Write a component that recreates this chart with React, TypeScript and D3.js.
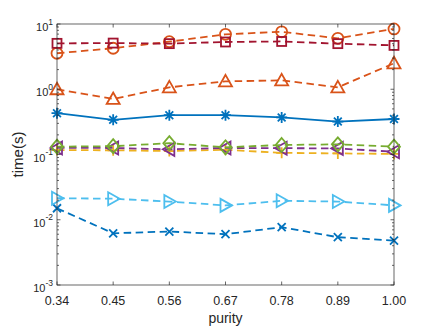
import React from "react";
import * as d3 from "d3";

const purity = [0.34, 0.45, 0.56, 0.67, 0.78, 0.89, 1.0];
const xTickLabels = ["0.34", "0.45", "0.56", "0.67", "0.78", "0.89", "1.00"];
const yTickExponents = [-3, -2, -1, 0, 1];

const squareSeries = [5.05, 5.1, 5.0, 5.3, 5.4, 5.0, 4.7];
const circleSeries = [3.56, 4.25, 5.36, 6.95, 7.6, 6.04, 8.4];
const triUpSeries = [1.0, 0.71, 1.07, 1.32, 1.37, 1.07, 2.5];
const starSeries = [0.43, 0.34, 0.4, 0.4, 0.37, 0.32, 0.35];
const plusSeries = [0.117, 0.116, 0.113, 0.118, 0.106, 0.104, 0.102];
const triLeftSeries = [0.126, 0.126, 0.12, 0.126, 0.125, 0.124, 0.11];
const diamondSeries = [0.132, 0.134, 0.149, 0.129, 0.14, 0.143, 0.132];
const triRightSeries = [0.0214, 0.021, 0.019, 0.0166, 0.0195, 0.019, 0.0166];
const xSeries = [0.015, 0.0062, 0.0066, 0.006, 0.0077, 0.0054, 0.0048];

type Series = { values: number[]; color: string; marker: string; dashed: boolean };

const series: Series[] = [
  { values: xSeries, color: "#0072BD", marker: "x", dashed: true },
  { values: triRightSeries, color: "#4DBEEE", marker: "triRight", dashed: true },
  { values: plusSeries, color: "#EDB120", marker: "plus", dashed: true },
  { values: triLeftSeries, color: "#7E2F8E", marker: "triLeft", dashed: true },
  { values: diamondSeries, color: "#77AC30", marker: "diamond", dashed: true },
  { values: starSeries, color: "#0072BD", marker: "star", dashed: false },
  { values: triUpSeries, color: "#D95319", marker: "triUp", dashed: true },
  { values: circleSeries, color: "#D95319", marker: "circle", dashed: true },
  { values: squareSeries, color: "#A2142F", marker: "square", dashed: true },
];

const W = 436, H = 327;
const M = { left: 57, right: 394, top: 24, bottom: 285 };
const LW = 1.8;

function Marker({ type, x, y, color }: { type: string; x: number; y: number; color: string }) {
  const s = 5.5;
  const common = { fill: "none", stroke: color, strokeWidth: LW };
  switch (type) {
    case "square":
      return <rect x={x - 4.5} y={y - 4.5} width={9} height={9} {...common} />;
    case "circle":
      return <circle cx={x} cy={y} r={5.5} {...common} />;
    case "triUp":
      return <path d={`M${x},${y - 6.5}L${x + 6.5},${y + 5}L${x - 6.5},${y + 5}Z`} {...common} />;
    case "triLeft":
      return <path d={`M${x - 6.5},${y}L${x + 5},${y - 6.5}L${x + 5},${y + 6.5}Z`} {...common} />;
    case "triRight":
      return <path d={`M${x + 6.5},${y}L${x - 5},${y - 6.5}L${x - 5},${y + 6.5}Z`} {...common} />;
    case "diamond":
      return <path d={`M${x},${y - 7}L${x + 6},${y}L${x},${y + 7}L${x - 6},${y}Z`} {...common} />;
    case "plus":
      return <path d={`M${x - s},${y}L${x + s},${y}M${x},${y - s}L${x},${y + s}`} {...common} />;
    case "x":
      return <path d={`M${x - 4},${y - 4}L${x + 4},${y + 4}M${x - 4},${y + 4}L${x + 4},${y - 4}`} {...common} />;
    case "star":
      return (
        <path
          d={`M${x - s},${y}L${x + s},${y}M${x},${y - s}L${x},${y + s}M${x - 3.9},${y - 3.9}L${x + 3.9},${y + 3.9}M${x - 3.9},${y + 3.9}L${x + 3.9},${y - 3.9}`}
          {...common}
        />
      );
    default:
      return null;
  }
}

export default function App() {
  const x = d3.scaleLinear().domain([0.34, 1.0]).range([M.left, M.right]);
  const y = d3.scaleLog().domain([1e-3, 1e1]).range([M.bottom, M.top]);
  const line = d3
    .line<number>()
    .x((_, i) => x(purity[i]))
    .y((d) => y(d));

  const minorTicks: number[] = [];
  for (let e = -3; e < 1; e++) {
    for (let k = 2; k <= 9; k++) minorTicks.push(k * Math.pow(10, e));
  }
  const axisColor = "#262626";
  const font = "Helvetica, Arial, 'Liberation Sans', sans-serif";

  return (
    <svg width={W} height={H} style={{ position: "absolute", left: 0, top: 0, background: "#fff" }}>
      <rect x={0} y={0} width={W} height={H} fill="#fff" />
      {series.map((s, si) => (
        <g key={si}>
          <path
            d={line(s.values) || ""}
            fill="none"
            stroke={s.color}
            strokeWidth={LW}
            strokeDasharray={s.dashed ? "7.5,4.5" : undefined}
          />
          {s.values.map((v, i) => (
            <Marker key={i} type={s.marker} x={x(purity[i])} y={y(v)} color={s.color} />
          ))}
        </g>
      ))}
      <rect
        x={M.left}
        y={M.top}
        width={M.right - M.left}
        height={M.bottom - M.top}
        fill="none"
        stroke={axisColor}
        strokeWidth={0.7}
      />
      {purity.map((p, i) => (
        <g key={i}>
          <line x1={x(p)} x2={x(p)} y1={M.bottom} y2={M.bottom - 3.5} stroke={axisColor} strokeWidth={0.7} />
          <line x1={x(p)} x2={x(p)} y1={M.top} y2={M.top + 3.5} stroke={axisColor} strokeWidth={0.7} />
          <text x={x(p)} y={M.bottom + 20} textAnchor="middle" fontSize={12.5} fill={axisColor} fontFamily={font}>
            {xTickLabels[i]}
          </text>
        </g>
      ))}
      {yTickExponents.map((e) => {
        const yy = y(Math.pow(10, e));
        return (
          <g key={e}>
            <line x1={M.left} x2={M.left + 3.5} y1={yy} y2={yy} stroke={axisColor} strokeWidth={0.7} />
            <line x1={M.right} x2={M.right - 3.5} y1={yy} y2={yy} stroke={axisColor} strokeWidth={0.7} />
            <text x={M.left - 4} y={yy + 7} textAnchor="end" fontSize={11} fill={axisColor} fontFamily={font}>
              10
              <tspan dy={-6.5} fontSize={8.5}>
                {String(e)}
              </tspan>
            </text>
          </g>
        );
      })}
      {minorTicks.map((t, i) => (
        <g key={i}>
          <line x1={M.left} x2={M.left + 2} y1={y(t)} y2={y(t)} stroke={axisColor} strokeWidth={0.7} />
          <line x1={M.right} x2={M.right - 2} y1={y(t)} y2={y(t)} stroke={axisColor} strokeWidth={0.7} />
        </g>
      ))}
      <text x={(M.left + M.right) / 2} y={323} textAnchor="middle" fontSize={14} fill={axisColor} fontFamily={font}>
        purity
      </text>
      <text
        transform={`translate(23,${(M.top + M.bottom) / 2}) rotate(-90)`}
        textAnchor="middle"
        fontSize={15}
        fill={axisColor}
        fontFamily={font}
      >
        time(s)
      </text>
    </svg>
  );
}
